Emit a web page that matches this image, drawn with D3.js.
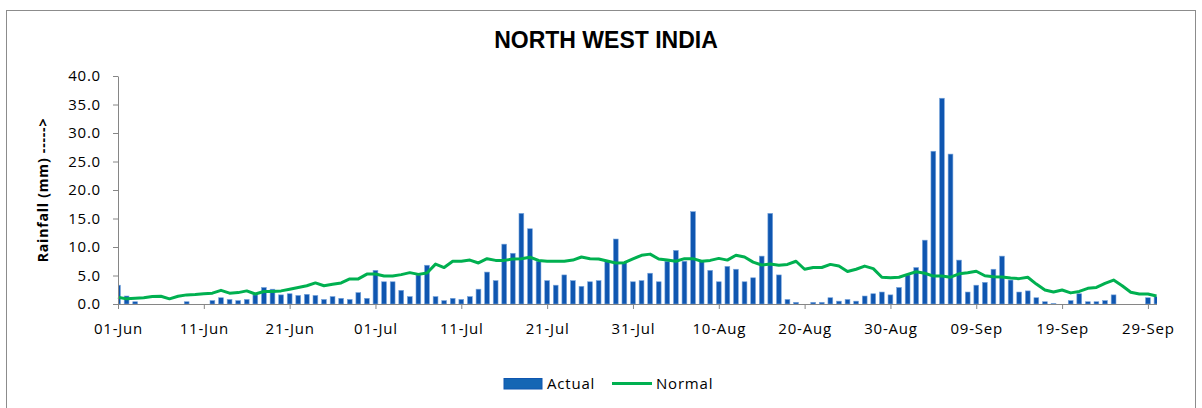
<!DOCTYPE html>
<html lang="en">
<head>
    <script src="https://d3js.org/d3.v7.min.js"></script>
    <style>
        body {
            margin: 0px;
            background: #fff;
        }
        text {
            font-family: "Open Sans", sans-serif;
            fill: #000;
        }
    </style>
</head>
<body>
<svg id="chart"></svg>
<script>
// Daily rainfall (mm), 01-Jun to 30-Sep
var actual = [
    3.3, 1.4, 0.4, 0, 0, 0, 0, 0, 0.4, 0, 0, 0.6, 1.1, 0.8, 0.6, 0.8, 1.6, 2.9, 2.6, 1.6, 1.8,
    1.5, 1.7, 1.5, 0.8, 1.3, 1.0, 0.8, 2.0, 1.0, 5.9, 3.9, 3.9, 2.4, 1.3, 5.1, 6.8, 1.3, 0.6, 1.0, 0.8,
    1.3, 2.6, 5.6, 4.1, 10.5, 8.9, 15.9, 13.2, 7.5, 4.1, 3.3, 5.1, 4.1, 3.1, 3.9, 4.1, 7.5, 11.4, 7.3, 3.9,
    4.1, 5.4, 3.9, 7.5, 9.4, 7.5, 16.2, 7.5, 5.9, 3.9, 6.6, 6.1, 3.9, 4.6, 8.4, 15.9, 5.1, 0.8, 0.3, 0,
    0.3, 0.3, 1.1, 0.5, 0.8, 0.5, 1.4, 1.8, 2.1, 1.6, 2.9, 5.1, 6.4, 11.2, 26.8, 36.1, 26.3, 7.7, 2.1, 3.3, 3.8,
    6.1, 8.4, 4.2, 2.1, 2.3, 1.1, 0.4, 0.1, 0, 0.6, 1.8, 0.4, 0.4, 0.6, 1.6, 0, 0, 0, 1.1, 1.3
];
var normal = [
    1.2, 0.9, 1.0, 1.1, 1.3, 1.35, 0.9, 1.35, 1.6, 1.65, 1.8, 1.9, 2.4, 1.9, 2.0, 2.3, 1.75, 2.2, 2.2, 2.3, 2.6,
    2.9, 3.2, 3.7, 3.2, 3.45, 3.7, 4.4, 4.4, 5.25, 5.25, 4.9, 4.9, 5.15, 5.5, 5.2, 5.45, 7.0, 6.4, 7.5, 7.5,
    7.7, 7.2, 7.95, 7.65, 7.65, 7.9, 7.95, 8.2, 7.65, 7.5, 7.5, 7.5, 7.7, 8.25, 7.95, 7.9, 7.55, 7.2, 7.25, 7.9,
    8.55, 8.75, 7.9, 7.7, 7.5, 7.95, 7.95, 7.5, 7.65, 8.0, 7.7, 8.55, 8.25, 7.35, 6.85, 7.0, 6.8, 6.95, 7.5, 6.1,
    6.4, 6.4, 6.95, 6.65, 5.7, 6.1, 6.65, 6.2, 4.7, 4.6, 4.7, 5.2, 5.65, 5.4, 4.9, 4.9, 4.7, 5.3, 5.5, 5.75, 4.95,
    4.8, 4.75, 4.55, 4.45, 4.7, 3.5, 2.45, 2.1, 2.45, 1.95, 2.2, 2.75, 2.9, 3.6, 4.2, 3.2, 2.05, 1.75, 1.75, 1.4
];
var days = d3.timeDay.range(new Date(2019, 5, 1), new Date(2019, 9, 1));
var tickLabels = ["01-Jun", "11-Jun", "21-Jun", "01-Jul", "11-Jul", "21-Jul", "31-Jul",
    "10-Aug", "20-Aug", "30-Aug", "09-Sep", "19-Sep", "29-Sep"];
var yTicks = [0, 5, 10, 15, 20, 25, 30, 35, 40];

var width = 1202, height = 408;
var m = { left: 118, right: 1156.5, top: 76, bottom: 304 };
var barW = 4.8;

var svg = d3.select("#chart")
    .attr("width", width)
    .attr("height", height);

// Outer frame
svg.append("rect")
    .attr("x", 6.5).attr("y", 10.5)
    .attr("width", 1189).attr("height", 420)
    .attr("fill", "none")
    .attr("stroke", "#8c8c8c");

var x = d3.scaleTime()
    .domain([days[0], days[days.length - 1]])
    .range([m.left, m.right]);
var y = d3.scaleLinear()
    .domain([0, 40])
    .range([m.bottom, m.top]);

svg.append("clipPath").attr("id", "plotclip")
    .append("rect")
    .attr("x", m.left).attr("y", 0)
    .attr("width", m.right - m.left + 0.5).attr("height", m.bottom);

// Bars
svg.append("g")
    .attr("clip-path", "url(#plotclip)")
    .selectAll("rect")
    .data(actual)
    .enter().append("rect")
    .attr("x", function(d, i) { return x(days[i]) - barW / 2; })
    .attr("y", function(d) { return y(d); })
    .attr("width", barW)
    .attr("height", function(d) { return m.bottom - y(d); })
    .attr("fill", "#0f56b0")
    .attr("stroke", "#7aa6dc")
    .attr("stroke-width", 0.6);

// Normal line
var line = d3.line()
    .x(function(d, i) { return x(days[i]); })
    .y(function(d) { return y(d); });
svg.append("path")
    .datum(normal)
    .attr("d", line)
    .attr("fill", "none")
    .attr("stroke", "#00b050")
    .attr("stroke-width", 3)
    .attr("stroke-linejoin", "round");

// Axes
var xTickDates = days.filter(function(d, i) { return i % 10 == 0; });
var xAxis = d3.axisBottom(x)
    .tickValues(xTickDates)
    .tickFormat(function(d, i) { return tickLabels[i]; })
    .tickSize(5)
    .tickSizeOuter(0)
    .tickPadding(14);
var gx = svg.append("g")
    .attr("transform", "translate(0," + m.bottom + ")")
    .call(xAxis);

var yAxis = d3.axisLeft(y)
    .tickValues(yTicks)
    .tickFormat(d3.format(".1f"))
    .tickSize(5)
    .tickSizeOuter(0)
    .tickPadding(12);
var gy = svg.append("g")
    .attr("transform", "translate(" + m.left + ",0)")
    .call(yAxis);

[gx, gy].forEach(function(g) {
    g.selectAll("path, line").attr("stroke", "#868686");
    g.selectAll("text")
        .style("font-family", "'Open Sans', sans-serif")
        .style("font-size", "15px")
        .style("letter-spacing", "0.8px")
        .attr("fill", "#000");
});

// Title
svg.append("text")
    .attr("x", 606)
    .attr("y", 48)
    .attr("text-anchor", "middle")
    .style("font-family", "'Liberation Sans', Arial, sans-serif")
    .style("font-weight", "bold")
    .style("font-size", "23px")
    .text("NORTH WEST INDIA");

// Y axis label
svg.append("text")
    .attr("transform", "translate(48," + ((m.top + m.bottom) / 2) + ") rotate(-90)")
    .attr("text-anchor", "middle")
    .style("font-weight", "bold")
    .style("font-size", "14px")
    .style("letter-spacing", "0.8px")
    .text("Rainfall (mm) ----->");

// Legend
var legend = svg.append("g");
legend.append("rect")
    .attr("x", 504).attr("y", 378.5)
    .attr("width", 38).attr("height", 10.5)
    .attr("fill", "#1466b4")
    .attr("stroke", "#0f56b0");
legend.append("text")
    .attr("x", 547).attr("y", 389)
    .style("font-size", "15px")
    .style("letter-spacing", "0.8px")
    .text("Actual");
legend.append("line")
    .attr("x1", 612).attr("x2", 652)
    .attr("y1", 383.5).attr("y2", 383.5)
    .attr("stroke", "#00b050")
    .attr("stroke-width", 3);
legend.append("text")
    .attr("x", 656).attr("y", 389)
    .style("font-size", "15px")
    .style("letter-spacing", "0.8px")
    .text("Normal");
</script>
</body>
</html>
